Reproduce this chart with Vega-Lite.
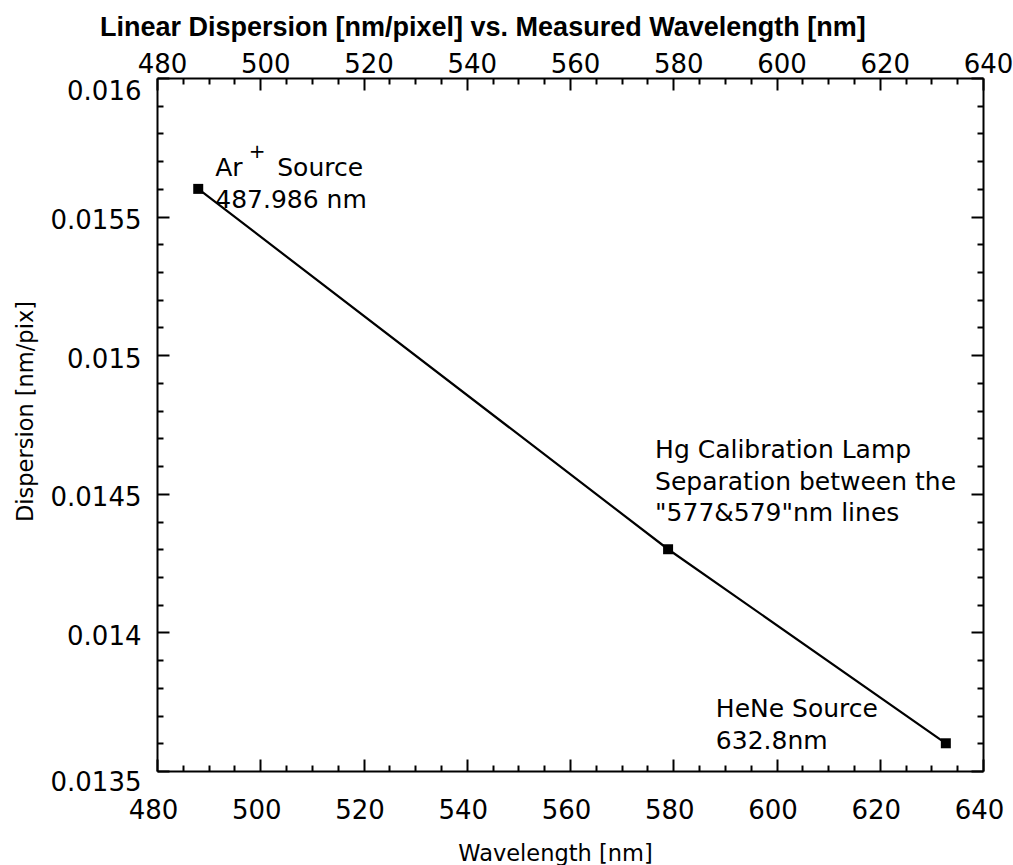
{
  "$schema": "https://vega.github.io/schema/vega-lite/v6.json",
  "autosize": "none",
  "padding": {"left": 157, "top": 78, "right": 30, "bottom": 94},
  "width": 826,
  "height": 693,
  "background": "white",
  "title": {
    "text": "Linear Dispersion [nm/pixel] vs. Measured Wavelength [nm]",
    "anchor": "start",
    "frame": "group",
    "dx": -57,
    "dy": -5,
    "font": "Liberation Sans",
    "fontSize": 27,
    "fontWeight": "bold",
    "color": "black"
  },
  "config": {
    "view": {"stroke": null},
    "axis": {
      "domainColor": "black",
      "domainWidth": 2,
      "tickColor": "black",
      "tickWidth": 2,
      "labelColor": "black",
      "labelFont": "DejaVu Sans",
      "labelFontSize": 26,
      "labelFlush": false,
      "labelOverlap": false,
      "titleColor": "black",
      "titleFont": "DejaVu Sans",
      "titleFontSize": 22.5,
      "titleFontWeight": "normal",
      "grid": false
    }
  },
  "data": {
    "values": [
      {"source": "Ar+", "wavelength": 487.986, "dispersion": 0.0156},
      {"source": "Hg", "wavelength": 579.0, "dispersion": 0.0143},
      {"source": "HeNe", "wavelength": 632.8, "dispersion": 0.0136}
    ]
  },
  "resolve": {"axis": {"x": "independent", "y": "independent"}},
  "layer": [
    {
      "mark": {"type": "line", "color": "black", "strokeWidth": 2.2},
      "encoding": {
        "x": {
          "field": "wavelength", "type": "quantitative",
          "scale": {"domain": [480, 640], "nice": false, "zero": false},
          "axis": {
            "orient": "bottom",
            "values": [480, 500, 520, 540, 560, 580, 600, 620, 640],
            "tickSize": -12,
            "labelPadding": 38,
            "labelOffset": -4,
            "title": "Wavelength [nm]",
            "titleX": 398,
            "titleY": 89,
            "titleBaseline": "alphabetic"
          }
        },
        "y": {
          "field": "dispersion", "type": "quantitative",
          "scale": {"domain": [0.0135, 0.016], "nice": false, "zero": false},
          "axis": {
            "orient": "left",
            "values": [0.0135, 0.014, 0.0145, 0.015, 0.0155, 0.016],
            "format": ".4~f",
            "tickSize": -12,
            "labelPadding": 28,
            "labelOffset": {"expr": "datum.value > 0.01595 ? 13 : (datum.value < 0.01355 ? 11 : 4)"},
            "title": "Dispersion [nm/pix]",
            "titleX": -125,
            "titleY": 333,
            "titleBaseline": "alphabetic"
          }
        }
      }
    },
    {
      "mark": {"type": "square", "color": "black", "filled": true, "opacity": 1, "size": 100},
      "encoding": {
        "x": {
          "field": "wavelength", "type": "quantitative",
          "scale": {"domain": [480, 640], "nice": false, "zero": false},
          "axis": {
            "orient": "bottom",
            "values": [485, 490, 495, 505, 510, 515, 525, 530, 535, 545, 550, 555, 565, 570, 575, 585, 590, 595, 605, 610, 615, 625, 630, 635],
            "tickSize": -6,
            "labels": false,
            "domain": false,
            "title": null
          }
        },
        "y": {
          "field": "dispersion", "type": "quantitative",
          "scale": {"domain": [0.0135, 0.016], "nice": false, "zero": false},
          "axis": {
            "orient": "left",
            "values": [0.0136, 0.0137, 0.0138, 0.0139, 0.0141, 0.0142, 0.0143, 0.0144, 0.0146, 0.0147, 0.0148, 0.0149, 0.0151, 0.0152, 0.0153, 0.0154, 0.0156, 0.0157, 0.0158, 0.0159],
            "tickSize": -6,
            "labels": false,
            "domain": false,
            "title": null
          }
        }
      }
    },
    {
      "transform": [{"filter": "datum.source === 'Ar+'"}],
      "mark": {"type": "text", "align": "left", "baseline": "alphabetic", "font": "DejaVu Sans", "fontSize": 25, "color": "black", "lineBreak": "\n", "lineHeight": 32, "dx": 17, "dy": -13},
      "encoding": {
        "x": {
          "field": "wavelength", "type": "quantitative",
          "scale": {"domain": [480, 640], "nice": false, "zero": false},
          "axis": {
            "orient": "top",
            "values": [480, 500, 520, 540, 560, 580, 600, 620, 640],
            "tickSize": -12,
            "labelPadding": 13,
            "labelOffset": 5,
            "title": null
          }
        },
        "y": {
          "field": "dispersion", "type": "quantitative",
          "scale": {"domain": [0.0135, 0.016], "nice": false, "zero": false},
          "axis": {
            "orient": "right",
            "values": [0.0135, 0.014, 0.0145, 0.015, 0.0155, 0.016],
            "tickSize": -12,
            "labels": false,
            "title": null
          }
        },
        "text": {"value": "Ar\n487.986 nm"}
      }
    },
    {
      "transform": [{"filter": "datum.source === 'Ar+'"}],
      "mark": {"type": "text", "align": "left", "baseline": "alphabetic", "font": "DejaVu Sans", "fontSize": 25, "color": "black", "dx": 79, "dy": -13},
      "encoding": {
        "x": {
          "field": "wavelength", "type": "quantitative",
          "scale": {"domain": [480, 640], "nice": false, "zero": false},
          "axis": {
            "orient": "top",
            "values": [485, 490, 495, 505, 510, 515, 525, 530, 535, 545, 550, 555, 565, 570, 575, 585, 590, 595, 605, 610, 615, 625, 630, 635],
            "tickSize": -6,
            "labels": false,
            "domain": false,
            "title": null
          }
        },
        "y": {
          "field": "dispersion", "type": "quantitative",
          "scale": {"domain": [0.0135, 0.016], "nice": false, "zero": false},
          "axis": {
            "orient": "right",
            "values": [0.0136, 0.0137, 0.0138, 0.0139, 0.0141, 0.0142, 0.0143, 0.0144, 0.0146, 0.0147, 0.0148, 0.0149, 0.0151, 0.0152, 0.0153, 0.0154, 0.0156, 0.0157, 0.0158, 0.0159],
            "tickSize": -6,
            "labels": false,
            "domain": false,
            "title": null
          }
        },
        "text": {"value": "Source"}
      }
    },
    {
      "transform": [{"filter": "datum.source === 'Ar+'"}],
      "mark": {"type": "text", "align": "center", "baseline": "middle", "font": "DejaVu Sans", "fontSize": 20, "color": "black", "dx": 59, "dy": -37},
      "encoding": {
        "x": {"field": "wavelength", "type": "quantitative", "scale": {"domain": [480, 640], "nice": false, "zero": false}, "axis": null},
        "y": {"field": "dispersion", "type": "quantitative", "scale": {"domain": [0.0135, 0.016], "nice": false, "zero": false}, "axis": null},
        "text": {"value": "+"}
      }
    },
    {
      "transform": [{"filter": "datum.source === 'Hg'"}],
      "mark": {"type": "text", "align": "left", "baseline": "alphabetic", "font": "DejaVu Sans", "fontSize": 25, "color": "black", "lineBreak": "\n", "lineHeight": 31.5, "dx": -13, "dy": -91},
      "encoding": {
        "x": {"field": "wavelength", "type": "quantitative", "scale": {"domain": [480, 640], "nice": false, "zero": false}, "axis": null},
        "y": {"field": "dispersion", "type": "quantitative", "scale": {"domain": [0.0135, 0.016], "nice": false, "zero": false}, "axis": null},
        "text": {"value": "Hg Calibration Lamp\nSeparation between the\n\"577&579\"nm lines"}
      }
    },
    {
      "transform": [{"filter": "datum.source === 'HeNe'"}],
      "mark": {"type": "text", "align": "left", "baseline": "alphabetic", "font": "DejaVu Sans", "fontSize": 25, "color": "black", "lineBreak": "\n", "lineHeight": 32, "dx": -230, "dy": -26},
      "encoding": {
        "x": {"field": "wavelength", "type": "quantitative", "scale": {"domain": [480, 640], "nice": false, "zero": false}, "axis": null},
        "y": {"field": "dispersion", "type": "quantitative", "scale": {"domain": [0.0135, 0.016], "nice": false, "zero": false}, "axis": null},
        "text": {"value": "HeNe Source\n632.8nm"}
      }
    }
  ]
}
